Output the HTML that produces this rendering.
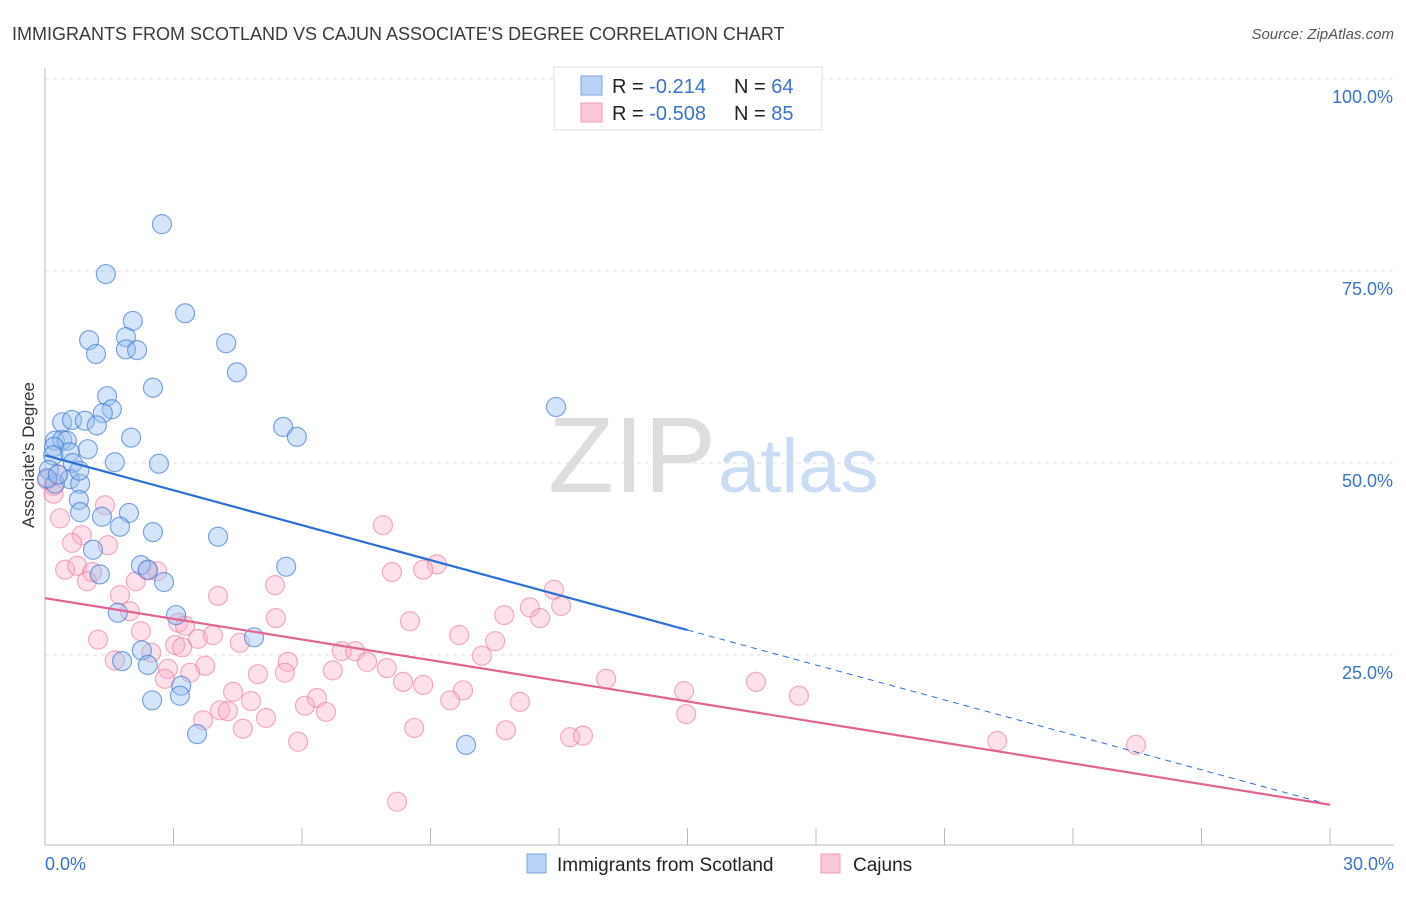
<!DOCTYPE html>
<html><head><meta charset="utf-8"><style>
body{margin:0;background:#fff;font-family:"Liberation Sans",sans-serif}
svg text{font-family:"Liberation Sans",sans-serif}
</style></head><body>
<svg id="chart" width="1406" height="892" xmlns="http://www.w3.org/2000/svg">
<text x="12" y="40" font-size="18" fill="#3a3a3a">IMMIGRANTS FROM SCOTLAND VS CAJUN ASSOCIATE'S DEGREE CORRELATION CHART</text>
<text x="1394" y="39" font-size="15" fill="#555" font-style="italic" text-anchor="end">Source: ZipAtlas.com</text>
<text x="34" y="455" font-size="17" fill="#333" text-anchor="middle" transform="rotate(-90 34 455)">Associate's Degree</text>
<text x="716" y="492" font-size="108" fill="#ddd" font-family="Liberation Serif" text-anchor="end">ZIP</text>
<text x="718" y="492" font-size="76" fill="#c9dcf3">atlas</text>
<g id="grid"></g><g id="pts"></g><g id="lines"></g>
<g>
<rect x="554" y="67" width="268" height="63" fill="#fff" stroke="#ddd"/>
<rect x="581" y="76" width="21" height="19" fill="#b8d3f5" stroke="#7aa7e0"/>
<rect x="581" y="103" width="21" height="19" fill="#fcc8d8" stroke="#f09ab5"/>
<text x="612" y="93" font-size="20" fill="#222">R = <tspan fill="#3a72cc"> -0.214</tspan><tspan x="734">N = </tspan><tspan fill="#3a72cc">64</tspan></text>
<text x="612" y="120" font-size="20" fill="#222">R = <tspan fill="#3a72cc">-0.508</tspan><tspan x="734">N = </tspan><tspan fill="#3a72cc">85</tspan></text>
</g>
<g>
<rect x="527" y="854" width="19" height="19" fill="#b8d3f5" stroke="#7aa7e0"/>
<text x="557" y="871" font-size="19" fill="#222">Immigrants from Scotland</text>
<rect x="821" y="854" width="19" height="19" fill="#fcc8d8" stroke="#f09ab5"/>
<text x="853" y="871" font-size="19" fill="#222">Cajuns</text>
</g>
</svg>
<script>
const yTicks=[25,50,75,100];
const yTickLabels=["25.0%","50.0%","75.0%","100.0%"];
const xTicks=[0,3,6,9,12,15,18,21,24,27,30];
const xLabels=["0.0%","30.0%"];
const blueX=[2.73,1.42,3.27,2.05,1.03,1.89,4.23,1.19,1.89,2.15,4.48,2.52,1.45,1.56,1.35,0.40,0.63,0.93,1.21,5.56,2.01,5.88,11.93,0.23,0.40,0.51,0.21,1.00,0.58,1.63,2.66,0.65,0.19,0.09,0.58,0.82,0.23,0.79,0.82,1.33,1.96,1.75,2.52,4.04,1.12,1.28,2.24,2.40,5.63,2.78,1.70,3.06,4.88,2.26,2.40,1.80,3.18,3.15,2.50,3.55,9.83,0.05,0.30,0.80];
const blueY=[81.1,74.6,69.5,68.5,66.0,66.4,65.6,64.2,64.8,64.7,61.8,59.8,58.7,57.0,56.5,55.3,55.6,55.5,54.9,54.7,53.3,53.4,57.3,52.9,53.0,52.9,52.1,51.8,51.4,50.1,49.9,50.0,51.0,49.1,47.9,47.3,47.3,45.2,43.6,43.0,43.5,41.7,41.0,40.4,38.7,35.5,36.7,36.1,36.5,34.5,30.5,30.2,27.3,25.6,23.7,24.2,21.0,19.7,19.1,14.7,13.3,48.0,48.5,49.0];
const pinkX=[0.35,1.40,0.86,0.63,1.47,0.47,0.75,1.10,0.98,2.12,2.62,1.75,1.98,4.04,5.37,5.39,1.24,2.24,3.11,3.27,2.48,1.63,3.04,3.57,3.92,4.55,2.87,2.80,3.39,3.74,5.67,5.60,4.97,6.72,6.93,7.24,4.39,4.81,4.09,4.27,3.69,4.62,5.16,6.07,6.35,6.56,5.91,7.89,9.15,8.10,8.83,11.88,12.05,11.32,10.72,8.52,11.56,9.67,10.51,10.20,7.52,7.98,8.36,8.83,9.76,9.46,11.09,13.10,14.92,16.60,17.60,14.97,8.62,10.76,12.26,12.56,22.23,25.47,8.22,0.05,0.20,0.30,2.40,3.20,0.20];
const pinkY=[42.8,44.5,40.6,39.6,39.3,36.1,36.6,35.8,34.6,34.6,35.9,32.8,30.7,32.7,34.1,29.8,27.0,28.1,29.2,28.8,25.3,24.3,26.3,27.1,27.6,26.6,23.2,21.9,22.7,23.6,24.1,22.7,22.5,23.0,25.5,25.5,20.2,19.0,17.8,17.7,16.5,15.4,16.8,18.4,19.4,17.6,13.7,41.9,36.8,35.8,36.1,33.5,31.4,31.2,30.2,29.4,29.8,27.6,26.8,24.9,24.1,23.3,21.5,21.1,20.4,19.1,18.9,21.9,20.3,21.5,19.7,17.3,15.5,15.2,14.3,14.5,13.8,13.3,5.9,47.8,47.0,48.5,36.0,26.0,46.0];
const blueTrend=[51.0,5.5];
const pinkTrend=[32.4,5.5];
const blueSolidEnd=15;
const X0=45,X1=1330,YB=847,YT=79;
const sx=v=>X0+(v/30)*(X1-X0);
const sy=v=>YB-(v/100)*(YB-YT);
const NS="http://www.w3.org/2000/svg";
function mk(t,a,p){const e=document.createElementNS(NS,t);for(const k in a)e.setAttribute(k,a[k]);p.appendChild(e);return e;}
const grid=document.getElementById('grid');
mk('line',{x1:45,y1:68,x2:45,y2:845,stroke:'#bbb'},grid);
mk('line',{x1:45,y1:845,x2:1394,y2:845,stroke:'#bbb'},grid);
mk('line',{x1:45,y1:79,x2:1394,y2:79,stroke:'#ddd','stroke-dasharray':'4,4'},grid);
yTicks.forEach((v,i)=>{
 const l=mk('line',{x1:45,y1:sy(v),x2:1394,y2:sy(v),stroke:'#ddd','stroke-dasharray':'4,4'},grid);
 
 
 const t=mk('text',{x:1393,y:sy(v)+24,'font-size':18,fill:'#3a72cc','text-anchor':'end'},grid);
 t.textContent=yTickLabels[i];
 
 
});
xTicks.forEach(v=>{
 const l=mk('line',{x1:sx(v),y1:828,x2:sx(v),y2:845,stroke:'#bbb'},grid);
 
 
});
[[0,'start',45],[30,'end',1394]].forEach((d,i)=>{
 const t=mk('text',{x:d[2],y:870,'font-size':18,fill:'#3a72cc','text-anchor':d[1]},grid);
 t.textContent=xLabels[i];
 
 
});
const pts=document.getElementById('pts');
pinkX.forEach((x,i)=>{
 const c=mk('circle',{cx:sx(x),cy:sy(pinkY[i]),r:9.5,fill:'rgba(248,170,195,0.35)',stroke:'rgba(232,120,155,0.6)','stroke-width':1.2},pts);
 
 
});
blueX.forEach((x,i)=>{
 const c=mk('circle',{cx:sx(x),cy:sy(blueY[i]),r:9.5,fill:'rgba(150,190,240,0.4)',stroke:'rgba(60,120,210,0.65)','stroke-width':1.2},pts);
 
 
});
const ln=document.getElementById('lines');
const bAt=x=>blueTrend[0]+(blueTrend[1]-blueTrend[0])*x/30;
let l1=mk('line',{x1:sx(0),y1:sy(bAt(0)),x2:sx(blueSolidEnd),y2:sy(bAt(blueSolidEnd)),stroke:'#2a6fd6','stroke-width':2.2},ln);


let l2=mk('line',{x1:sx(blueSolidEnd),y1:sy(bAt(blueSolidEnd)),x2:sx(30),y2:sy(bAt(30)),stroke:'#2a6fd6','stroke-width':1,'stroke-dasharray':'6,5'},ln);


let l3=mk('line',{x1:sx(0),y1:sy(pinkTrend[0]),x2:sx(30),y2:sy(pinkTrend[1]),stroke:'#e4628f','stroke-width':2.2},ln);


</script>
</body></html>
